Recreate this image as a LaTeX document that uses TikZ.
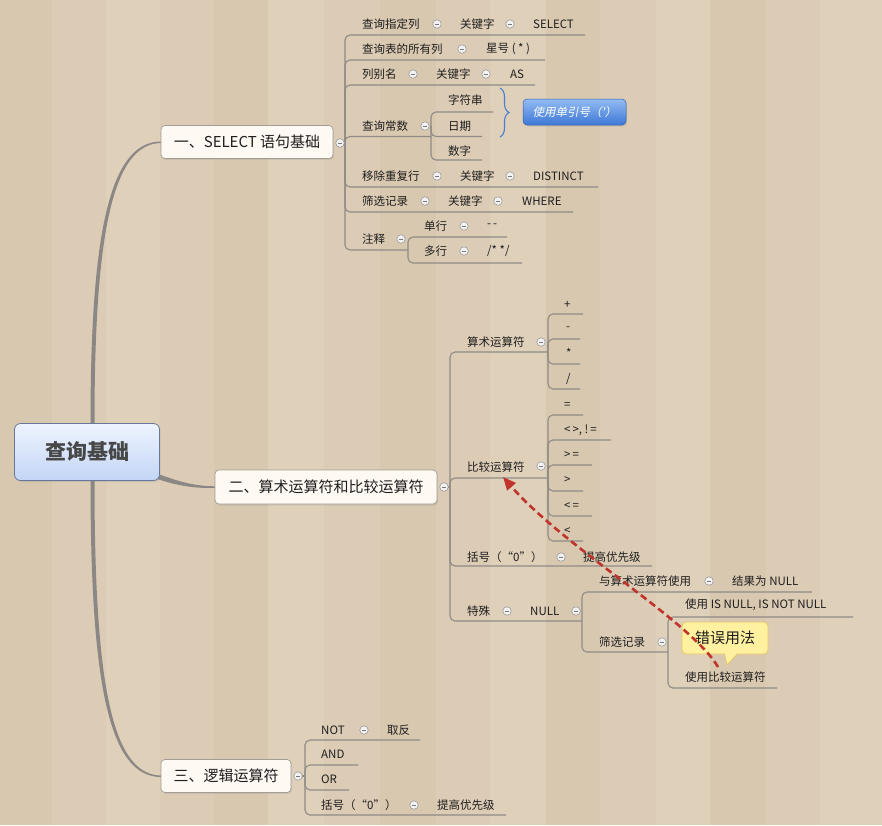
\documentclass[tikz,border=0pt]{standalone}
\usepackage{fontspec}
\setmainfont{Noto Sans CJK SC}
\newfontfamily\slantfont{Noto Sans CJK SC}[FakeSlant=0.2]
\usetikzlibrary{arrows.meta,decorations.pathreplacing,shadows}
\definecolor{bga}{HTML}{DCCCB5}
\definecolor{bgb}{HTML}{D9C8B0}
\definecolor{bgc}{HTML}{DFD0BA}
\definecolor{plk}{HTML}{CDBBA0}
\definecolor{lnc}{HTML}{8F8B86}
\definecolor{txt}{HTML}{1E1E1E}
\definecolor{colb}{HTML}{9A9A9A}
\definecolor{colf}{HTML}{F2F2F2}
\definecolor{colm}{HTML}{7A7A7A}
\definecolor{brd}{HTML}{A39C95}
\definecolor{brf}{HTML}{FFF9F3}
\definecolor{rootd}{HTML}{66789A}
\definecolor{roott}{HTML}{EEF4FF}
\definecolor{rootb}{HTML}{C3D5F5}
\definecolor{spine}{HTML}{8A8785}
\definecolor{bluet}{HTML}{93BBF2}
\definecolor{blueb}{HTML}{3D78D6}
\definecolor{braceblue}{HTML}{4A80D4}
\definecolor{yelf}{HTML}{FFF1A0}
\definecolor{yeld}{HTML}{E6C46A}
\definecolor{redar}{HTML}{C0342C}
\tikzset{
  ln/.style={draw=lnc, line width=1.1pt, rounded corners=5pt},
  t/.style={font=\fontsize{11.5}{13}\selectfont, inner sep=0pt, anchor=west, text=txt},
  col/.style={circle, draw=colb, fill=colf, minimum size=8.5pt, inner sep=0pt, line width=0.6pt,
    path picture={\draw[colm, line width=0.8pt] ([xshift=-2.2pt]path picture bounding box.center) -- ([xshift=2.2pt]path picture bounding box.center);}},
  br/.style={draw=brd, fill=brf, rounded corners=4pt, font=\fontsize{15}{17}\selectfont, text=txt, inner sep=0pt, line width=0.7pt,
    drop shadow={opacity=0.18, shadow xshift=1.2pt, shadow yshift=-1.5pt}},
  spinefill/.style={fill=spine},
}
\begin{document}
\begin{tikzpicture}[x=1pt,y=-1pt]
\useasboundingbox (0,0) rectangle (882,825);
% background planks
\fill[bga] (0,0) rectangle (882,825);
\foreach \xa/\xb/\c in {0/52/bgb,52/106/bga,106/160/bgc,160/214/bga,214/268/bgb,268/324/bgc,324/380/bga,380/436/bgb,436/490/bga,490/546/bgc,546/600/bgb,600/656/bga,656/710/bgc,710/766/bgb,766/820/bga,820/882/bgc}{
  \fill[\c] (\xa,0) rectangle (\xb,825);
  \draw[plk, line width=0.5pt, opacity=0.5] (\xb,0) -- (\xb,825);
}
% spine curves (tapered)
\fill[spinefill] (90.5,424) .. controls (90.5,240) and (108,141.5) .. (161,141.5) -- (161,143) .. controls (111,143.5) and (94.5,240) .. (94.5,424) -- cycle;
\fill[spinefill] (90.5,480) .. controls (90.5,680) and (108,777) .. (161,777) -- (161,775.5) .. controls (111,775) and (94.5,680) .. (94.5,480) -- cycle;
\fill[spinefill] (150,471) .. controls (172,479) and (190,486.3) .. (216,486.3) -- (216,487.8) .. controls (188,489) and (168,483) .. (149,476) -- cycle;

% root
\node[draw=rootd, line width=0.8pt, rounded corners=6pt, top color=roott, bottom color=rootb, minimum width=145pt, minimum height=57pt, font=\fontsize{21}{24}\selectfont\bfseries, text=black!72, drop shadow={opacity=0.2, shadow xshift=1.2pt, shadow yshift=-1.5pt}] (root) at (87,452) {查询基础};

% level-1 nodes
\node[br, minimum width=172pt, minimum height=33pt] (b1) at (247,142) {一、SELECT 语句基础};
\node[br, minimum width=222pt, minimum height=34pt] (b2) at (326,487) {二、算术运算符和比较运算符};
\node[br, minimum width=130pt, minimum height=33pt] (b3) at (226,776) {三、逻辑运算符};

% ============ branch 1 connectors
\draw[ln] (340,143) -- (345,143);
\draw[ln] (345,143) |- (585,35);
\draw[ln] (345,143) |- (545,60);
\draw[ln] (345,143) |- (535,85);
\draw[ln] (345,143) |- (431,136.5);
\draw[ln] (345,143) |- (598,187);
\draw[ln] (345,143) |- (573,212);
\draw[ln] (345,143) |- (408,250);
\draw[ln] (431,126) |- (493,112);
\draw[ln] (431,126) |- (482,136.5);
\draw[ln] (431,126) |- (482,160);
\draw[ln] (408,250) |- (507,237);
\draw[ln] (408,250) |- (522,263);
\node[col] (c1) at (340,143) {};
% rows
\node[t] (a1) at (362,24) {查询指定列};
\node[col] (a1c) at (437,24) {};
\node[t] (a1k) at (460,24) {关键字};
\node[col] (a1kc) at (510,24) {};
\node[t] (a1v) at (533,24) {SELECT};
\node[t] (a2) at (362,49) {查询表的所有列};
\node[col] (a2c) at (462,49) {};
\node[t] (a2v) at (486,49) {星号 ( * )};
\node[t] (a3) at (362,74) {列别名};
\node[col] (a3c) at (413,74) {};
\node[t] (a3k) at (436,74) {关键字};
\node[col] (a3kc) at (486,74) {};
\node[t] (a3v) at (510,74) {AS};
\node[t] (a4) at (362,126) {查询常数};
\node[col] (a4c) at (425,126) {};
\node[t] (a4a) at (448,100) {字符串};
\node[t] (a4b) at (448,126) {日期};
\node[t] (a4d) at (448,151) {数字};
\node[t] (a5) at (362,176) {移除重复行};
\node[col] (a5c) at (437,176) {};
\node[t] (a5k) at (460,176) {关键字};
\node[col] (a5kc) at (510,176) {};
\node[t] (a5v) at (533,176) {DISTINCT};
\node[t] (a6) at (362,201) {筛选记录};
\node[col] (a6c) at (425,201) {};
\node[t] (a6k) at (448,201) {关键字};
\node[col] (a6kc) at (498,201) {};
\node[t] (a6v) at (522,201) {WHERE};
\node[t] (a7) at (362,239) {注释};
\node[col] (a7c) at (401,239) {};
\node[t] (a7a) at (424,226) {单行};
\node[col] (a7ac) at (464,226) {};
\node[t] (a7av) at (487,226) {-\,-};
\node[t] (a7b) at (424,251) {多行};
\node[col] (a7bc) at (464,251) {};
\node[t] (a7bv) at (487,251) {/* */};
% brace and callout
\draw[braceblue, line width=1.1pt, decorate, decoration={brace, amplitude=9pt}] (500,88) -- (500,137);
\node[rounded corners=4pt, top color=bluet, bottom color=blueb, draw=blueb!80!black, line width=0.5pt, minimum width=103pt, minimum height=26pt, font=\fontsize{11.5}{13}\selectfont\slantfont, text=white, inner sep=0pt, drop shadow={opacity=0.2, shadow xshift=1.2pt, shadow yshift=-1.5pt}] (q) at (574.5,112) {使用单引号（'）};

% ============ branch 2 connectors
\draw[ln] (444,487) -- (450,487);
\draw[ln] (450,487) |- (548,352);
\draw[ln] (450,487) |- (548,478);
\draw[ln] (450,487) |- (652,566);
\draw[ln] (450,487) |- (582,621);
\draw[ln] (548,342) |- (583,314);
\draw[ln] (548,342) |- (580,339);
\draw[ln] (548,342) |- (580,364);
\draw[ln] (548,342) |- (580,389);
\draw[ln] (548,466) |- (583,415);
\draw[ln] (548,466) |- (611,440);
\draw[ln] (548,466) |- (592,465);
\draw[ln] (548,466) |- (583,491);
\draw[ln] (548,466) |- (592,516);
\draw[ln] (548,466) |- (583,541);
\draw[ln] (582,611) |- (812,592);
\draw[ln] (582,611) |- (668,652);
\draw[ln] (668,642) |- (853,617);
\draw[ln] (668,642) |- (777,688);
\node[col] (c2) at (444,487) {};
\node[t] (s1) at (467,342) {算术运算符};
\node[col] (s1c) at (541,342) {};
\node[t] (s1a) at (564,305) {+};
\node[t] (s1b) at (566,329) {-};
\node[t] (s1d) at (566,353) {*};
\node[t] (s1e) at (566,379) {/};
\node[t] (s2) at (467,467) {比较运算符};
\node[col] (s2c) at (541,466) {};
\node[t] (s2a) at (564,405) {=};
\node[t] (s2b) at (564,430) {<\,>,\ !\,=};
\node[t] (s2d) at (564,455) {>\,=};
\node[t] (s2e) at (564,480) {>};
\node[t] (s2f) at (564,506) {<\,=};
\node[t] (s2g) at (564,531) {<};
\node[t] (s3) at (467,557) {括号（“0”）};
\node[col] (s3c) at (561,557) {};
\node[t] (s3v) at (583,557) {提高优先级};
\node[t] (s4) at (467,611) {特殊};
\node[col] (s4c) at (507,611) {};
\node[t] (s4n) at (530,611) {NULL};
\node[col] (s4nc) at (576,611) {};
\node[t] (s5) at (599,581) {与算术运算符使用};
\node[col] (s5c) at (709,581) {};
\node[t] (s5v) at (732,581) {结果为 NULL};
\node[t] (s6) at (599,642) {筛选记录};
\node[col] (s6c) at (662,642) {};
\node[t] (s6a) at (685,605) {使用 IS NULL, IS NOT NULL};
\node[t] (s6b) at (685,677) {使用比较运算符};
% yellow callout
\node[draw=yeld, fill=yelf, line width=0.8pt, rounded corners=4pt, minimum width=86pt, minimum height=32pt, inner sep=0pt, font=\fontsize{15}{17}\selectfont, text=txt] (err) at (725,638) {错误用法};
\fill[yelf] (724.5,653) -- (727,665) -- (737.5,653) -- cycle;
\draw[yeld, line width=0.8pt, line join=round] (724.5,654) -- (727,665) -- (737.5,654);
% red dashed arrow
\draw[redar, line width=2.6pt, dash pattern=on 7pt off 4pt, -{Triangle[length=13pt,width=11pt]}] (718,667) .. controls (692,622) and (565,548) .. (503,477);

% ============ branch 3 connectors
\draw[ln] (298,776) -- (305,776);
\draw[ln] (305,776) |- (420,740);
\draw[ln] (305,776) |- (358,765);
\draw[ln] (305,776) |- (349,790);
\draw[ln] (305,776) |- (506,815);
\node[col] (c3) at (298,776) {};
\node[t] (l1) at (321,730) {NOT};
\node[col] (l1c) at (364,730) {};
\node[t] (l1v) at (387,730) {取反};
\node[t] (l2) at (321,754) {AND};
\node[t] (l3) at (321,779) {OR};
\node[t] (l4) at (321,805) {括号（“0”）};
\node[col] (l4c) at (414,805) {};
\node[t] (l4v) at (437,805) {提高优先级};
\end{tikzpicture}
\end{document}
